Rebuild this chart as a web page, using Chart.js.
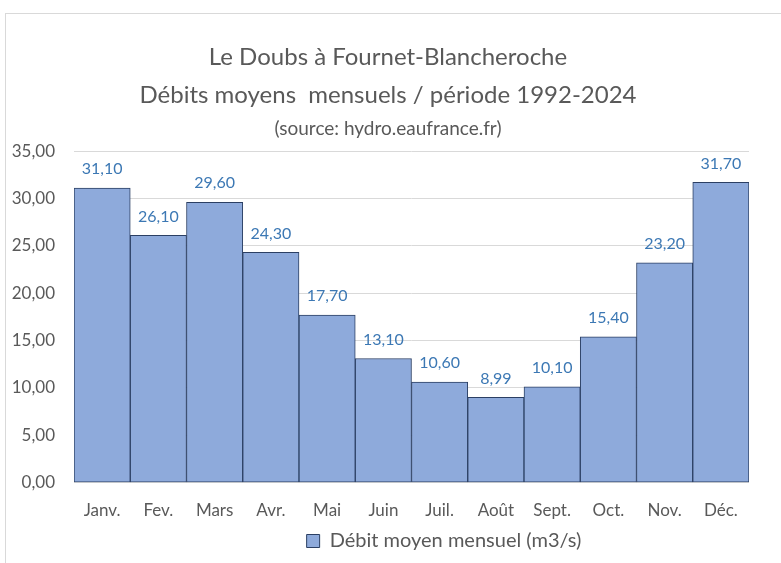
<!DOCTYPE html>
<html>
<head>
<meta charset="utf-8">
<script src="https://cdn.jsdelivr.net/npm/chart.js@4"></script>
<style>
  body { margin: 0; background: #fff; }
  #wrap { width: 781px; height: 563px; }
</style>
</head>
<body>
<div id="wrap"><canvas id="graph-canvas" width="781" height="563"></canvas></div>
<script>
// débits moyens mensuels du Doubs, 1992-2024
let mois = ['Janv.', 'Fev.', 'Mars', 'Avr.', 'Mai', 'Juin', 'Juil.', 'Août', 'Sept.', 'Oct.', 'Nov.', 'Déc.'];
let debits = [31.10, 26.10, 29.60, 24.30, 17.70, 13.10, 10.60, 8.99, 10.10, 15.40, 23.20, 31.70];
let yTicks = [0, 5, 10, 15, 20, 25, 30, 35];

const police = 'Lato';
const gris = '#595959';

function virgule(v) {
  return v.toFixed(2).replace('.', ',');
}

// cadre gris autour du graphique
const cadre = {
  id: 'cadre',
  beforeDraw(chart) {
    const ctx = chart.ctx;
    ctx.save();
    ctx.fillStyle = '#fff';
    ctx.fillRect(0, 0, chart.width, chart.height);
    ctx.strokeStyle = '#d9d9d9';
    ctx.lineWidth = 1;
    ctx.strokeRect(5.5, 13.5, chart.width, chart.height);
    ctx.restore();
  },
  // légende décalée vers la droite
  afterLayout(chart) {
    const lg = chart.legend;
    lg.left += 56;
    lg.right += 56;
  }
};

// valeurs au-dessus des barres
const etiquettes = {
  id: 'etiquettes',
  afterDatasetsDraw(chart) {
    const ctx = chart.ctx;
    const meta = chart.getDatasetMeta(0);
    ctx.save();
    ctx.font = '16px ' + police;
    ctx.fillStyle = '#3c78b4';
    ctx.textAlign = 'center';
    ctx.textBaseline = 'middle';
    meta.data.forEach(function (bar, i) {
      ctx.fillText(virgule(debits[i]), bar.x, bar.y - 19);
    });
    ctx.restore();
  }
};

let graphTarget = document.getElementById('graph-canvas');
let barGraph = new Chart(graphTarget, {
  type: 'bar',
  data: {
    labels: mois,
    datasets: [
      {
        label: 'Débit moyen mensuel (m3/s)',
        backgroundColor: '#8eaadb',
        borderColor: '#2b3f63',
        borderWidth: 1,
        borderSkipped: false,
        barPercentage: 1,
        categoryPercentage: 1,
        data: debits
      }
    ]
  },
  plugins: [cadre, etiquettes],
  options: {
    responsive: false,
    animation: false,
    layout: { padding: { top: 20, left: 8, right: 13, bottom: 2 } },
    scales: {
      x: {
        grid: { display: false },
        border: { display: false },
        ticks: { color: gris, padding: 10, font: { family: police, size: 17 } }
      },
      y: {
        min: 0,
        max: 35,
        afterBuildTicks(scale) {
          scale.ticks = yTicks.map(v => ({ value: v }));
        },
        afterFit(scale) {
          scale.width = 66;
        },
        grid: { color: '#d9d9d9', drawTicks: false },
        border: { display: false },
        ticks: {
          color: gris,
          padding: 19,
          font: { family: police, size: 17 },
          callback: v => virgule(v)
        }
      },
      // axe vide à droite, juste pour garder la marge
      y2: {
        position: 'right',
        min: 0,
        max: 35,
        afterFit(scale) {
          scale.width = 19;
        },
        grid: { display: false },
        border: { display: false },
        ticks: { display: false }
      }
    },
    plugins: {
      title: {
        display: true,
        text: ['Le Doubs à Fournet-Blancheroche', 'Débits moyens  mensuels / période 1992-2024'],
        color: gris,
        font: { family: police, size: 24, weight: 'normal', lineHeight: 1.55 },
        padding: { top: 19, bottom: 3 }
      },
      subtitle: {
        display: true,
        text: '(source: hydro.eaufrance.fr)',
        color: gris,
        font: { family: police, size: 19, lineHeight: 1.3 },
        padding: { top: 0, bottom: 10 }
      },
      legend: {
        position: 'bottom',
        labels: {
          color: gris,
          boxWidth: 13,
          boxHeight: 13,
          padding: 0,
          font: { family: police, size: 20 }
        }
      },
      tooltip: { enabled: false }
    }
  }
});
</script>
</body>
</html>
